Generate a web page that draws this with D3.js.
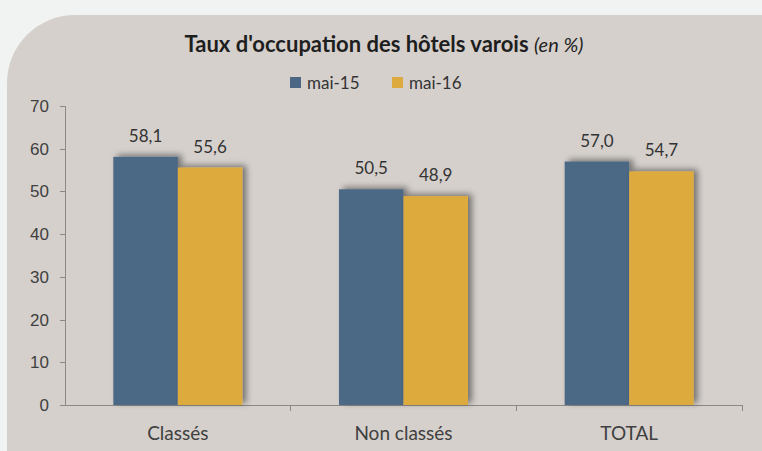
<!DOCTYPE html>
<html lang="fr">
<head>
<meta charset="UTF-8">
<title>Taux d'occupation des hôtels varois</title>
<script src="https://d3js.org/d3.v7.min.js"></script>
<style>
body { margin: 0; background: #f1f3f2; }
svg { display: block; font-family: Lato, "Open Sans", sans-serif; }
.axis path, .axis line { fill: none; stroke: #8c8886; shape-rendering: crispEdges; }
.axis text { font-size: 17px; fill: #404040; }
.label { font-size: 17px; fill: #333; text-anchor: middle; }
.legendTxt { font-size: 17px; fill: #333; }
</style>
</head>
<body>
<script>
var width = 762, height = 451;

var categories = ["Classés", "Non classés", "TOTAL"];
var seriesNames = ["mai-15", "mai-16"];
var mai15 = [58.1, 50.5, 57.0];
var mai16 = [55.6, 48.9, 54.7];
var yTicks = [0, 10, 20, 30, 40, 50, 60, 70];
var colors = ["#4b6785", "#dcaa3e"];

var data = categories.map(function(c, i) {
    return { name: c, values: [mai15[i], mai16[i]] };
});

var svg = d3.select("body").append("svg")
    .attr("width", width)
    .attr("height", height);

// ombre des barres
var defs = svg.append("defs");
defs.append("filter").attr("id", "shadow")
    .attr("x", "-30%").attr("y", "-30%").attr("width", "160%").attr("height", "160%")
    .append("feDropShadow")
    .attr("dx", 4).attr("dy", -2)
    .attr("stdDeviation", 3)
    .attr("flood-color", "#000")
    .attr("flood-opacity", 0.45);

// panneau arrondi
svg.append("rect")
    .attr("x", 7).attr("y", 15)
    .attr("width", 900).attr("height", 600)
    .attr("rx", 68).attr("ry", 68)
    .attr("fill", "#d5d0cc");

var plotL = 65, plotR = 742, plotT = 106, plotB = 405;

var x0 = d3.scaleBand().domain(categories).range([plotL, plotR]);
var groupW = 129;
var x1 = d3.scaleBand().domain(seriesNames)
    .range([(x0.bandwidth() - groupW) / 2, (x0.bandwidth() + groupW) / 2]);
var y = d3.scaleLinear().domain([0, 70]).range([plotB, plotT]);

// axes
var yAxis = svg.append("g").attr("class", "axis")
    .attr("transform", "translate(" + plotL + ",0)")
    .call(d3.axisLeft(y).tickValues(yTicks).tickSize(5).tickPadding(11).tickSizeOuter(0));
yAxis.select(".domain").attr("d", "M0.5," + plotT + "V" + plotB);

var xAxis = svg.append("g").attr("class", "axis")
    .attr("transform", "translate(0," + plotB + ")");
xAxis.append("line")
    .attr("x1", plotL - 5).attr("x2", plotR)
    .attr("y1", 0.5).attr("y2", 0.5);
xAxis.selectAll(".tk")
    .data(categories.slice(1).concat([null]))
    .enter().append("line")
    .attr("x1", function(d) { return d ? x0(d) : plotR; })
    .attr("x2", function(d) { return d ? x0(d) : plotR; })
    .attr("y1", 0).attr("y2", 6);
xAxis.selectAll(".cat")
    .data(categories)
    .enter().append("text")
    .attr("x", function(d) { return x0(d) + x0.bandwidth() / 2; })
    .attr("y", 35)
    .attr("text-anchor", "middle")
    .style("font-size", "19px")
    .text(function(d) { return d; });

// barres
var groups = svg.append("g").selectAll("g")
    .data(data).enter().append("g")
    .attr("transform", function(d) { return "translate(" + x0(d.name) + ",0)"; });

groups.selectAll("rect")
    .data(function(d) { return d.values.map(function(v, i) { return { s: seriesNames[i], v: v, i: i }; }); })
    .enter().append("rect")
    .attr("x", function(d) { return x1(d.s); })
    .attr("y", function(d) { return y(d.v); })
    .attr("width", x1.bandwidth())
    .attr("height", function(d) { return plotB - y(d.v); })
    .attr("fill", function(d) { return colors[d.i]; })
    .attr("filter", "url(#shadow)");

groups.selectAll(".label")
    .data(function(d) { return d.values.map(function(v, i) { return { s: seriesNames[i], v: v }; }); })
    .enter().append("text")
    .attr("class", "label")
    .attr("x", function(d) { return x1(d.s) + x1.bandwidth() / 2; })
    .attr("y", function(d) { return y(d.v) - 15; })
    .text(function(d) { return d3.format(".1f")(d.v).replace(".", ","); });

// titre
var title = svg.append("text")
    .attr("x", 384).attr("y", 52)
    .attr("text-anchor", "middle")
    .style("font-size", "22px")
    .attr("fill", "#1e1e1e");
title.append("tspan").style("font-weight", "bold").text("Taux d'occupation des hôtels varois ");
title.append("tspan").style("font-style", "italic").style("font-size", "20px").text("(en %)");

// légende
var legend = svg.append("g");
var legX = [290, 392];
seriesNames.forEach(function(s, i) {
    legend.append("rect")
        .attr("x", legX[i]).attr("y", 77)
        .attr("width", 11).attr("height", 11)
        .attr("fill", colors[i]);
    legend.append("text")
        .attr("class", "legendTxt")
        .attr("x", legX[i] + 17).attr("y", 89)
        .text(s);
});
</script>
</body>
</html>
